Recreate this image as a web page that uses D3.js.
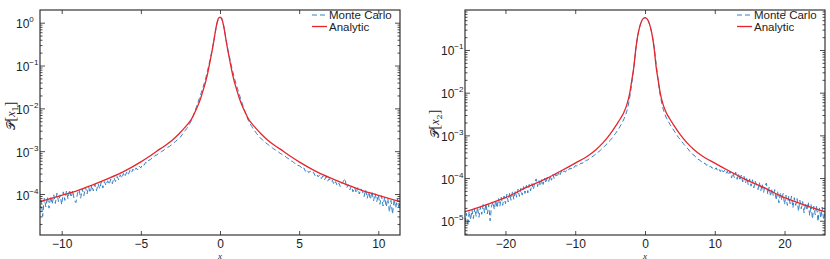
<!DOCTYPE html>
<html>
<head>
<meta charset="utf-8">
<script src="https://cdn.jsdelivr.net/npm/d3@7"></script>
<style>
  body { margin: 0; background: #fff; }
  text { font-family: "Liberation Sans", Arial, sans-serif; fill: #222; }
</style>
</head>
<body>
<div id="grafico"></div>
<script>
// Datos (exponentes log10 de la densidad)
// Panel 1: curva analitica
const analytic1X = [-11.4, -10, -9, -8, -7, -6, -5, -4.5, -4, -3.5, -3, -2.6, -2.3, -2, -1.8, -1.6, -1.4, -1.2, -1, -0.9, -0.8, -0.7, -0.6, -0.5, -0.4, -0.3, -0.2, -0.1, 0,
  0.1, 0.2, 0.3, 0.4, 0.5, 0.6, 0.7, 0.8, 0.9, 1, 1.2, 1.4, 1.6, 1.8, 2, 2.3, 2.6, 3, 3.5, 4, 4.5, 5, 6, 7, 8, 9, 10, 11.4];
const analytic1Log = [-4.18, -4.03, -3.92, -3.78, -3.63, -3.46, -3.25, -3.13, -3.0, -2.88, -2.74, -2.6, -2.48, -2.35, -2.25, -2.1, -1.94, -1.74, -1.5, -1.37, -1.22, -1.04, -0.85, -0.66, -0.45, -0.22, -0.02, 0.1, 0.13,
  0.1, -0.02, -0.22, -0.45, -0.66, -0.85, -1.04, -1.22, -1.37, -1.5, -1.74, -1.94, -2.1, -2.25, -2.35, -2.48, -2.6, -2.74, -2.88, -3.0, -3.13, -3.25, -3.46, -3.63, -3.78, -3.92, -4.03, -4.18];
// Panel 1: Monte Carlo, bins de 0.1 centrados en 0
const mc1Step = 0.1;
const mc1Log = [
  -4.38, -4.15, -4.52, -4.10, -4.30, -4.06, -4.33, -4.05, -4.24, -4.02,
  -4.22, -3.98, -4.18, -4.02, -4.25, -3.95, -4.15, -3.93, -4.12, -3.90,
  -4.08, -3.92, -4.15, -4.20, -3.98, -3.90, -4.10, -3.88, -4.04, -3.84,
  -4.00, -3.83, -3.97, -3.80, -3.93, -3.77, -3.92, -3.76, -3.88, -3.72,
  -3.86, -3.71, -3.80, -3.69, -3.78, -3.65, -3.76, -3.62, -3.71, -3.59,
  -3.67, -3.55, -3.63, -3.52, -3.60, -3.49, -3.56, -3.45, -3.51, -3.42,
  -3.47, -3.39, -3.44, -3.35, -3.39, -3.31, -3.33, -3.26, -3.28, -3.21,
  -3.20, -3.16, -3.15, -3.10, -3.09, -3.06, -3.04, -3.01, -2.99, -2.96,
  -2.94, -2.91, -2.89, -2.86, -2.84, -2.80, -2.77, -2.74, -2.70, -2.67,
  -2.62, -2.57, -2.52, -2.47, -2.41, -2.35, -2.28, -2.19, -2.09, -1.98,
  -1.87, -1.76, -1.65, -1.54, -1.42, -1.29, -1.14, -0.98, -0.82, -0.64,
  -0.45, -0.23, -0.03, 0.09,
  0.12,
  0.10, -0.01, -0.21, -0.43, -0.63, -0.80, -0.97, -1.13, -1.28, -1.41,
  -1.53, -1.65, -1.77, -1.88, -1.99, -2.10, -2.20, -2.29, -2.36, -2.42,
  -2.48, -2.53, -2.58, -2.63, -2.67, -2.71, -2.74, -2.77, -2.81, -2.83,
  -2.87, -2.89, -2.92, -2.95, -2.97, -3.00, -3.02, -3.05, -3.07, -3.10,
  -3.11, -3.15, -3.17, -3.19, -3.23, -3.24, -3.28, -3.29, -3.33, -3.34,
  -3.36, -3.42, -3.39, -3.47, -3.43, -3.50, -3.47, -3.52, -3.49, -3.57,
  -3.53, -3.60, -3.55, -3.64, -3.58, -3.67, -3.60, -3.70, -3.64, -3.72,
  -3.68, -3.78, -3.71, -3.80, -3.74, -3.83, -3.76, -3.70, -3.64, -3.86,
  -3.78, -3.90, -3.81, -3.95, -3.84, -3.98, -3.85, -4.00, -3.88, -3.94,
  -4.06, -3.90, -4.10, -3.95, -4.13, -3.94, -4.16, -3.99, -4.18, -4.02,
  -4.24, -4.04, -4.28, -4.07, -4.30, -4.10, -4.42, -4.15, -4.47, -4.12,
  -4.33, -4.10, -4.30, -4.20
];
const xTicks1 = [-10, -5, 0, 5, 10];
const yTickExps1 = [0, -1, -2, -3, -4];

// Panel 2: curva analitica
const analytic2X = [-25.8, -23, -20, -17, -14, -12, -10, -8, -7, -6, -5, -4, -3.5, -3, -2.6, -2.2, -1.9, -1.6, -1.3, -1.1, -0.9, -0.6, -0.3, 0,
  0.3, 0.6, 0.9, 1.1, 1.3, 1.6, 1.9, 2.2, 2.6, 3, 3.5, 4, 5, 6, 7, 8, 10, 12, 14, 17, 20, 23, 25.8];
const analytic2Log = [-4.79, -4.64, -4.46, -4.22, -4.0, -3.83, -3.65, -3.46, -3.33, -3.17, -2.97, -2.73, -2.6, -2.45, -2.28, -2.02, -1.72, -1.4, -0.95, -0.72, -0.55, -0.37, -0.27, -0.24,
  -0.27, -0.37, -0.55, -0.72, -0.95, -1.4, -1.72, -2.02, -2.28, -2.45, -2.6, -2.73, -2.97, -3.17, -3.33, -3.46, -3.65, -3.83, -4.0, -4.22, -4.46, -4.64, -4.79];
// Panel 2: Monte Carlo, bins de 0.2 centrados en 0
const mc2Step = 0.2;
const mc2Log = [
  -5.05, -4.82, -5.12, -4.78, -4.98, -4.74, -4.95, -4.70, -4.90, -4.68,
  -4.92, -4.68, -4.85, -4.62, -4.82, -4.60, -4.84, -4.62, -5.00, -4.66,
  -4.56, -4.74, -4.52, -4.70, -4.48, -4.66, -4.45, -4.64, -4.42, -4.60,
  -4.38, -4.56, -4.35, -4.52, -4.32, -4.50, -4.30, -4.45, -4.26, -4.43,
  -4.24, -4.40, -4.20, -4.36, -4.17, -4.35, -4.15, -4.30, -4.13, -4.27,
  -4.10, -4.02, -4.20, -4.06, -4.19, -4.03, -4.15, -4.00, -4.12, -3.98,
  -4.08, -3.95, -4.05, -3.92, -4.02, -3.90, -3.98, -3.87, -3.95, -3.84,
  -3.89, -3.83, -3.86, -3.80, -3.82, -3.77, -3.79, -3.74, -3.76, -3.71,
  -3.72, -3.68, -3.69, -3.65, -3.66, -3.61, -3.62, -3.58, -3.58, -3.54,
  -3.53, -3.50, -3.49, -3.45, -3.44, -3.40, -3.38, -3.35, -3.32, -3.29,
  -3.26, -3.22, -3.19, -3.15, -3.12, -3.08, -3.04, -2.99, -2.95, -2.90,
  -2.85, -2.80, -2.74, -2.68, -2.61, -2.53, -2.43, -2.30, -2.12, -1.90,
  -1.66, -1.40, -1.09, -0.83, -0.63, -0.48, -0.37, -0.29, -0.26,
  -0.24,
  -0.26, -0.30, -0.37, -0.48, -0.62, -0.80, -1.04, -1.33, -1.60, -1.86,
  -2.08, -2.25, -2.38, -2.48, -2.57, -2.63, -2.69, -2.75, -2.80, -2.85,
  -2.90, -2.95, -3.00, -3.05, -3.09, -3.12, -3.18, -3.21, -3.25, -3.29,
  -3.32, -3.37, -3.39, -3.44, -3.46, -3.50, -3.51, -3.56, -3.57, -3.61,
  -3.62, -3.66, -3.65, -3.70, -3.69, -3.74, -3.72, -3.77, -3.75, -3.80,
  -3.76, -3.83, -3.79, -3.85, -3.78, -3.86, -3.82, -3.90, -3.84, -3.93,
  -3.84, -4.00, -3.87, -3.99, -3.86, -4.03, -3.90, -4.06, -3.93, -4.09,
  -3.96, -4.12, -3.99, -4.16, -4.02, -4.19, -4.04, -4.23, -4.07, -4.17,
  -4.27, -4.11, -4.30, -4.14, -4.34, -4.17, -4.12, -4.38, -4.21, -4.43,
  -4.25, -4.42, -4.27, -4.52, -4.31, -4.58, -4.34, -4.52, -4.36, -4.62,
  -4.40, -4.64, -4.43, -4.60, -4.42, -4.70, -4.46, -4.64, -4.48, -4.78,
  -4.52, -4.72, -4.55, -4.82, -4.58, -4.76, -4.56, -4.88, -4.62, -4.96,
  -4.66, -4.86, -4.64, -5.02, -4.70, -4.94, -4.68, -4.98, -4.80
];
const xTicks2 = [-20, -10, 0, 10, 20];
const yTickExps2 = [-1, -2, -3, -4, -5];

const legendNames = ["Monte Carlo", "Analytic"];
const colorMC = "#3581c4";
const colorAnalytic = "#e6252b";
const axisColor = "#222";

const width = 830, height = 259;
const svg = d3.select("#grafico").append("svg")
  .attr("width", width)
  .attr("height", height);

// Formato de los ticks con signo menos tipografico
function fmtTick(d) {
  return d < 0 ? "\u2212" + Math.abs(d) : String(d);
}

function Panel(cfg) {
  // Escalas
  const x = d3.scaleLinear().domain(cfg.xDomain).range([cfg.left, cfg.right]);
  const y = d3.scaleLog()
    .domain([Math.pow(10, cfg.yExp[0]), Math.pow(10, cfg.yExp[1])])
    .range([cfg.bottom, cfg.top]);

  const g = svg.append("g");

  // Recorte al area del grafico
  svg.append("clipPath").attr("id", "clip" + cfg.id)
    .append("rect")
    .attr("x", cfg.left).attr("y", cfg.top)
    .attr("width", cfg.right - cfg.left)
    .attr("height", cfg.bottom - cfg.top);

  // Monte Carlo (bins centrados en 0)
  const n = cfg.mc.length;
  const x0 = -(n - 1) / 2 * cfg.mcStep;
  const lineMC = d3.line()
    .x((d, i) => x(x0 + i * cfg.mcStep))
    .y(d => y(Math.pow(10, d)));
  g.append("path")
    .datum(cfg.mc)
    .attr("clip-path", "url(#clip" + cfg.id + ")")
    .attr("fill", "none")
    .attr("stroke", colorMC)
    .attr("stroke-width", 1)
    .attr("stroke-dasharray", "5,3")
    .attr("d", lineMC);

  // Curva analitica
  const lineA = d3.line()
    .x(d => x(d[0]))
    .y(d => y(Math.pow(10, d[1])))
    .curve(d3.curveMonotoneX);
  g.append("path")
    .datum(d3.zip(cfg.anaX, cfg.anaLog))
    .attr("clip-path", "url(#clip" + cfg.id + ")")
    .attr("fill", "none")
    .attr("stroke", colorAnalytic)
    .attr("stroke-width", 1.3)
    .attr("d", lineA);

  // Ticks mayores y menores del eje log
  const majors = cfg.yTicks.map(e => Math.pow(10, e));
  const minors = [];
  for (let e = Math.floor(cfg.yExp[0]); e < Math.ceil(cfg.yExp[1]); e++) {
    for (let m = 2; m <= 9; m++) {
      const v = m * Math.pow(10, e);
      if (v > y.domain()[0] && v < y.domain()[1]) minors.push(v);
    }
  }

  const axes = [
    g.append("g").attr("transform", "translate(0," + cfg.bottom + ")")
      .call(d3.axisBottom(x).tickValues(cfg.xTicks).tickSize(-4).tickPadding(4.5).tickFormat(fmtTick)),
    g.append("g").attr("transform", "translate(0," + cfg.top + ")")
      .call(d3.axisTop(x).tickValues(cfg.xTicks).tickSize(-4).tickFormat("")),
    g.append("g").attr("transform", "translate(" + cfg.left + ",0)")
      .call(d3.axisLeft(y).tickValues(majors).tickSize(-5).tickFormat("")),
    g.append("g").attr("transform", "translate(" + cfg.right + ",0)")
      .call(d3.axisRight(y).tickValues(majors).tickSize(-5).tickFormat("")),
    g.append("g").attr("transform", "translate(" + cfg.left + ",0)")
      .call(d3.axisLeft(y).tickValues(minors).tickSize(-2.5).tickFormat("")),
    g.append("g").attr("transform", "translate(" + cfg.right + ",0)")
      .call(d3.axisRight(y).tickValues(minors).tickSize(-2.5).tickFormat(""))
  ];
  axes.forEach(a => {
    a.select(".domain").remove();
    a.selectAll("line").attr("stroke", axisColor).attr("stroke-width", 0.8);
    a.selectAll("text")
      .style("font-family", "'Liberation Sans', Arial, sans-serif")
      .style("font-size", "12px")
      .attr("fill", axisColor);
  });

  // Caja del grafico
  g.append("rect")
    .attr("x", cfg.left).attr("y", cfg.top)
    .attr("width", cfg.right - cfg.left)
    .attr("height", cfg.bottom - cfg.top)
    .attr("fill", "none")
    .attr("stroke", axisColor)
    .attr("stroke-width", 1.1);

  // Etiquetas del eje y: 10 con exponente
  const yl = g.selectAll(".ylab")
    .data(cfg.yTicks)
    .enter()
    .append("text")
    .attr("class", "ylab")
    .attr("x", cfg.left - 24)
    .attr("y", d => y(Math.pow(10, d)) + 5.5)
    .style("font-size", "12px");
  yl.append("tspan").text("10");
  yl.append("tspan")
    .attr("dy", -6)
    .style("font-size", "8px")
    .text(d => d === 0 ? "0" : "\u2212" + Math.abs(d));

  // Etiqueta del eje x
  g.append("text")
    .attr("x", x(0))
    .attr("y", 258.5)
    .attr("text-anchor", "middle")
    .style("font-family", "'Liberation Serif', serif")
    .style("font-style", "italic")
    .style("font-size", "9px")
    .text("x");

  // Etiqueta del eje y: P[x_i]
  const yt = g.append("text")
    .attr("transform", "translate(" + cfg.ylabX + "," + cfg.ylabY + ") rotate(-90)")
    .attr("text-anchor", "middle")
    .style("font-family", "'DejaVu Serif', 'Liberation Serif', serif")
    .style("font-size", "12px");
  yt.append("tspan").text("\uD835\uDCAB");
  yt.append("tspan").text("[").style("font-family", "'Liberation Serif', serif").style("font-size", "14px");
  yt.append("tspan").text("x").style("font-family", "'Liberation Serif', serif").style("font-style", "italic");
  yt.append("tspan").text(cfg.sub).attr("dy", 3).style("font-size", "8px");
  yt.append("tspan").text("]").attr("dy", -3).style("font-family", "'Liberation Serif', serif").style("font-size", "14px");

  // Leyenda
  const lg = g.append("g");
  legendNames.forEach((name, i) => {
    const ly = cfg.top + 5 + i * 11.5;
    lg.append("line")
      .attr("x1", cfg.right - 88).attr("x2", cfg.right - 73)
      .attr("y1", ly).attr("y2", ly)
      .attr("stroke", i === 0 ? colorMC : colorAnalytic)
      .attr("stroke-width", i === 0 ? 1 : 1.3)
      .attr("stroke-dasharray", i === 0 ? "5,3" : null);
    lg.append("text")
      .attr("x", cfg.right - 71)
      .attr("y", ly + 4)
      .style("font-size", "11.5px")
      .text(name);
  });
}

Panel({
  id: 1, left: 40, right: 400, top: 10, bottom: 235,
  xDomain: [-11.37, 11.37], yExp: [-4.957, 0.2965],
  xTicks: xTicks1, yTicks: yTickExps1,
  mc: mc1Log, mcStep: mc1Step,
  anaX: analytic1X, anaLog: analytic1Log,
  ylabX: 14.5, ylabY: 116, sub: "1"
});

Panel({
  id: 2, left: 465, right: 825, top: 10, bottom: 235,
  xDomain: [-25.8, 25.8], yExp: [-5.334, -0.063],
  xTicks: xTicks2, yTicks: yTickExps2,
  mc: mc2Log, mcStep: mc2Step,
  anaX: analytic2X, anaLog: analytic2Log,
  ylabX: 439, ylabY: 124, sub: "2"
});
</script>
</body>
</html>
